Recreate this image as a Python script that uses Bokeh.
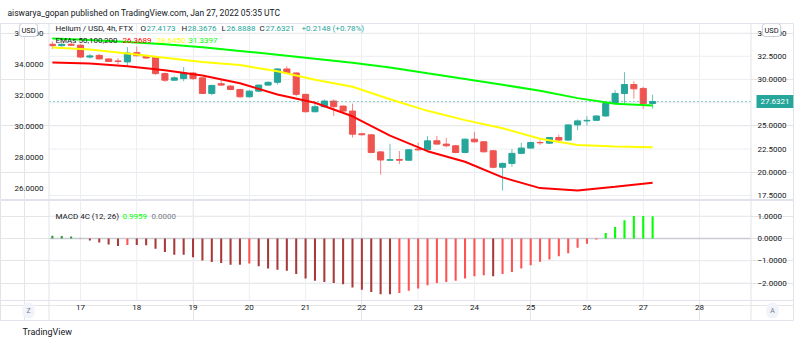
import datetime as dt
import pandas as pd
from bokeh.plotting import figure
from bokeh.layouts import column
from bokeh.models import (ColumnDataSource, LinearAxis, DatetimeAxis, Range1d, FixedTicker, DaysTicker,
                          DatetimeTickFormatter, CustomJSTickFormatter, Label, Span, Grid, Title)
from bokeh.embed import file_html
from bokeh.resources import INLINE

# ---------------- data ----------------
start_time = "2022-01-16 12:00"
opens = [33.80, 33.65, 33.80, 33.70, 32.42, 32.60, 32.22, 32.00, 31.90, 32.90,
         32.57, 32.40, 30.64, 29.93, 30.10, 30.70, 30.18, 28.50, 29.55, 29.29,
         28.93, 28.14, 28.75, 29.40, 29.70, 31.14, 30.71, 28.40, 26.53, 27.07,
         27.68, 27.14, 26.60, 24.15, 24.04, 22.20, 21.30, 21.38, 21.30, 22.50,
         22.43, 23.40, 23.04, 22.86, 22.14, 23.57, 23.29, 22.32, 20.54, 20.96,
         22.04, 22.61, 23.21, 23.14, 23.75, 23.47, 25.11, 25.54, 25.60, 26.07,
         27.43, 28.50, 29.46, 29.04, 27.4173]
highs = [34.10, 33.90, 33.95, 33.80, 32.75, 32.75, 32.30, 32.30, 33.50, 33.55,
         32.70, 32.45, 30.75, 30.35, 31.35, 30.80, 30.20, 29.45, 29.95, 29.40,
         29.00, 28.85, 29.45, 29.80, 31.20, 31.43, 30.75, 28.45, 27.60, 27.85,
         27.85, 27.20, 27.40, 24.25, 24.10, 22.30, 23.04, 22.30, 22.50, 23.20,
         23.90, 23.93, 23.70, 22.95, 23.65, 24.36, 23.35, 22.40, 21.05, 22.50,
         23.20, 23.30, 23.45, 23.80, 24.05, 25.15, 25.70, 26.05, 26.15, 27.50,
         28.86, 30.79, 29.82, 29.20, 28.3676]
lows = [33.30, 33.55, 33.60, 32.35, 32.25, 32.15, 31.90, 31.65, 31.35, 32.50,
        32.25, 30.50, 29.75, 29.85, 29.80, 29.95, 28.45, 28.30, 29.30, 28.85,
        28.05, 28.05, 28.65, 29.30, 29.46, 30.65, 28.20, 26.45, 26.45, 26.95,
        26.07, 26.50, 23.75, 23.95, 22.05, 19.75, 21.25, 20.90, 21.25, 22.30,
        22.35, 22.95, 22.70, 22.05, 22.05, 23.20, 22.15, 20.45, 18.04, 20.60,
        21.95, 22.55, 22.95, 23.05, 23.40, 23.40, 24.55, 25.05, 25.55, 26.00,
        27.35, 27.43, 27.93, 26.85, 26.8888]
closes = [33.65, 33.80, 33.70, 32.42, 32.55, 32.22, 31.95, 31.95, 32.86, 32.57,
          32.32, 30.64, 29.93, 30.18, 30.70, 30.10, 28.50, 29.36, 29.40, 28.93,
          28.14, 28.75, 29.40, 29.70, 31.14, 30.71, 28.40, 26.53, 27.07, 27.68,
          27.07, 26.60, 24.11, 24.05, 22.14, 21.33, 21.36, 21.30, 22.43, 22.42,
          23.39, 23.04, 22.86, 22.14, 23.57, 23.29, 22.21, 20.54, 20.96, 22.04,
          22.61, 23.21, 23.18, 23.75, 23.47, 25.11, 25.54, 25.60, 26.07, 27.43,
          28.50, 29.46, 29.00, 27.4173, 27.6321]

# EMA values sampled every 4 candles (16h)
ema50 = [34.12, 34.05, 33.88, 33.62, 33.28, 32.78, 32.05, 31.52, 30.65, 29.40,
         28.40, 27.72, 26.71, 26.02, 25.86, 26.10, 26.3689]
ema100 = [35.08, 34.96, 34.70, 34.42, 34.15, 33.95, 33.55, 33.00, 32.55, 31.75,
          31.00, 30.40, 29.88, 29.20, 28.80, 28.70, 28.6450]
ema200 = [35.66, 35.56, 35.44, 35.30, 35.10, 34.86, 34.62, 34.36, 34.10, 33.80,
          33.42, 33.05, 32.68, 32.30, 31.82, 31.45, 31.3397]

macd_hist = [0.12, 0.11, 0.09, -0.02, -0.09, -0.18, -0.27, -0.34, -0.30, -0.30,
             -0.31, -0.46, -0.61, -0.73, -0.73, -0.84, -0.99, -1.06, -1.10, -1.18,
             -1.18, -1.13, -1.25, -1.35, -1.40, -1.45, -1.60, -1.80, -1.90, -1.95,
             -2.00, -2.05, -2.20, -2.30, -2.40, -2.50, -2.50, -2.45, -2.35, -2.25,
             -2.10, -2.00, -1.95, -1.90, -1.80, -1.70, -1.65, -1.70, -1.60, -1.50,
             -1.35, -1.20, -1.05, -0.95, -0.80, -0.66, -0.42, -0.24, -0.05, 0.24,
             0.51, 0.81, 1.00, 1.00, 0.9959]

price_ticks = [17.5, 20.0, 22.5, 25.0, 27.5, 30.0, 32.5, 35.0]
ema_ticks = [26, 28, 30, 32, 34, 36]
macd_ticks = [-2, -1, 0, 1]
day_ticks = list(range(17, 29))

# ---------------- styles ----------------
FONT = "Roboto"
DARK = "#131722"
UP = "#26a69a"
DOWN = "#ef5350"
GRID = "#eceef2"
BORDER = "#e0e3eb"
FMT4 = "return tick.toFixed(4).replace('-', '\u2212')"

times = pd.date_range(start_time, periods=len(opens), freq="4h")
four_h = 4 * 3600 * 1000
ema_times = times[::4]
day_times = pd.to_datetime([f"2022-01-{d:02d}" for d in day_ticks])

colors = [UP if c >= o else DOWN for o, c in zip(opens, closes)]
src = ColumnDataSource(dict(t=times, o=opens, h=highs, l=lows, c=closes,
                            top=[max(o, c) for o, c in zip(opens, closes)],
                            bot=[min(o, c) for o, c in zip(opens, closes)],
                            color=colors))

mcol = []
for i, v in enumerate(macd_hist):
    prev = macd_hist[i - 1] if i > 0 else v + 1
    if v >= 0:
        mcol.append("#00ff00" if v >= prev - 0.005 else "#2e9b3a")
    else:
        mcol.append("#ff5252" if v > prev else "#a83a3a")
msrc = ColumnDataSource(dict(t=times, v=macd_hist, color=mcol))

# frame spans page x 0..793; the price panes sit between x=48 and x=750
FW = 793
x_start = dt.datetime(2022, 1, 15, 13, 53)
x_end = dt.datetime(2022, 1, 29, 16, 5)
xr = Range1d(start=x_start, end=x_end)
t0 = pd.Timestamp(x_start).value / 1e6
t1 = pd.Timestamp(x_end).value / 1e6


def x_at(px):
    return t0 + px / FW * (t1 - t0)


PANE_L, PANE_R = x_at(48.5), x_at(750.5)


def style_axis(ax, standoff):
    ax.major_tick_line_color = None
    ax.minor_tick_line_color = None
    ax.major_tick_out = 0
    ax.major_tick_in = 0
    ax.minor_tick_out = 0
    ax.minor_tick_in = 0
    ax.major_label_text_font = FONT
    ax.major_label_text_font_size = "8px"
    ax.major_label_text_color = DARK
    ax.major_label_standoff = standoff


def lab(fig, x, y, text, color=DARK, size="8px", **kw):
    fig.add_layout(Label(x=x, y=y, x_units="screen", y_units="screen", text=text,
                         text_font=FONT, text_font_size=size, text_color=color,
                         text_baseline="middle", **kw))


def hgrid(fig, ticks, **kw):
    fig.segment(x0=[PANE_L] * len(ticks), y0=ticks, x1=[PANE_R] * len(ticks), y1=ticks,
                line_color=GRID, line_width=1, **kw)


# ---------------- main pane ----------------
p = figure(width=800, height=200, x_range=xr, y_range=Range1d(16.96, 36.04),
           x_axis_type="datetime", x_axis_location=None, y_axis_location=None,
           toolbar_location=None, output_backend="svg", title=None,
           min_border_left=0, min_border_right=7, min_border_top=22, min_border_bottom=0)
p.extra_y_ranges = {"ema": Range1d(25.22, 36.63)}
p.outline_line_color = BORDER
p.border_fill_color = "white"

p.add_layout(Grid(dimension=0, ticker=DaysTicker(days=day_ticks), grid_line_color=GRID))
hgrid(p, price_ticks)

ra = LinearAxis(fixed_location=x_at(748), ticker=FixedTicker(ticks=price_ticks),
                formatter=CustomJSTickFormatter(code=FMT4), axis_line_color=None)
style_axis(ra, 9)
p.add_layout(ra, "right")

la = LinearAxis(y_range_name="ema", fixed_location=x_at(48), ticker=FixedTicker(ticks=ema_ticks),
                formatter=CustomJSTickFormatter(code=FMT4), axis_line_color=None)
style_axis(la, 5)
p.add_layout(la, "left")

for loc in (PANE_L, PANE_R):
    p.add_layout(Span(location=loc, dimension="height", line_color=BORDER, line_width=1))

p.segment(x0="t", y0="l", x1="t", y1="h", color="color", line_width=1, line_alpha=0.7, source=src)
p.vbar(x="t", width=0.65 * four_h, top="top", bottom="bot", fill_color="color",
       line_color="color", line_width=1, source=src)

p.line([PANE_L, x_at(751)], [closes[-1], closes[-1]], line_color=UP, line_dash="2 2",
       line_width=1, line_alpha=0.55)

p.line(ema_times, ema200, color="#00ff00", line_width=2, y_range_name="ema")
p.line(ema_times, ema100, color="#ffff00", line_width=2, y_range_name="ema")
p.line(ema_times, ema50, color="#ff0000", line_width=2, y_range_name="ema")

p.add_layout(Title(text="aiswarya_gopan published on TradingView.com, Jan 27, 2022 05:35 UTC",
                   align="left", offset=7, text_font=FONT, text_font_size="8.5px",
                   text_font_style="normal", text_color=DARK, standoff=11), "above")

top_y = lambda page_y: 200 - page_y  # main frame bottom is at page y 200

chg = closes[-1] - closes[-2]
pct = chg / closes[-2] * 100
hdr = [("Helium / USD, 4h, FTX", 55, DARK),
       ("O", 140, DARK), (f"{opens[-1]:.4f}", 146, UP),
       ("H", 181, DARK), (f"{highs[-1]:.4f}", 187, UP),
       ("L", 221, DARK), (f"{lows[-1]:.4f}", 226, UP),
       ("C", 259, DARK), (f"{closes[-1]:.4f}", 265, UP),
       (f"{chg:+.4f} ({pct:+.2f}%)", 301, UP)]
for t, x, c in hdr:
    lab(p, x, top_y(28), t, c)

hdr2 = [("EMAs 50,100,200", 55, DARK), (f"{ema50[-1]:.4f}", 122, "#ff0000"),
        (f"{ema100[-1]:.4f}", 156, "#ffff00"), (f"{ema200[-1]:.4f}", 188, "#00ff00")]
for t, x, c in hdr2:
    lab(p, x, top_y(40), t, c)

# last price tag on the right scale
p.add_layout(Label(x=756, y=closes[-1], x_units="screen", y_units="data", text=f"{closes[-1]:.4f}",
                   text_font=FONT, text_font_size="8px", text_color="white", text_baseline="middle",
                   background_fill_color=UP, padding=4))

# currency badges
for x in (28, 771):
    p.add_layout(Label(x=x, y=top_y(29.5), x_units="screen", y_units="screen", text="USD",
                       text_font=FONT, text_font_size="7.5px", text_color=DARK,
                       text_baseline="middle", text_align="center",
                       background_fill_color="white", border_line_color="#c8cbd4",
                       padding=2, border_radius=3))

# ---------------- MACD pane ----------------
q = figure(width=800, height=143, x_range=xr, y_range=Range1d(-3.68, 1.70),
           x_axis_type="datetime", x_axis_location=None, y_axis_location=None,
           toolbar_location=None, output_backend="svg", title=None,
           min_border_left=0, min_border_right=7, min_border_top=0, min_border_bottom=23)
q.outline_line_color = BORDER
q.border_fill_color = "white"

hgrid(q, [t for t in macd_ticks if t != 0])
q.segment(x0=day_times, y0=-2.78, x1=day_times, y1=1.70, line_color=GRID, line_width=1)
for loc in (PANE_L, PANE_R):
    q.add_layout(Span(location=loc, dimension="height", line_color=BORDER, line_width=1))

qa = LinearAxis(fixed_location=x_at(748), ticker=FixedTicker(ticks=macd_ticks),
                formatter=CustomJSTickFormatter(code=FMT4), axis_line_color=None)
style_axis(qa, 9)
q.add_layout(qa, "right")

xa = DatetimeAxis(fixed_location=-2.78, ticker=DaysTicker(days=day_ticks),
                  formatter=DatetimeTickFormatter(days="%d", months="%d", hours="%d"),
                  axis_line_color=BORDER)
style_axis(xa, 5)
q.add_layout(xa, "below")

q.segment(x0=[PANE_L], y0=[0], x1=[PANE_R], y1=[0], line_color="#c9ccd3", line_width=1.5)
q.vbar(x="t", width=0.22 * four_h, top="v", bottom=0, fill_color="color", line_color=None, source=msrc)

m_y = lambda page_y: 320 - page_y
lab(q, 55, m_y(216), "MACD 4C (12, 26)", DARK)
lab(q, 122, m_y(216), f"{macd_hist[-1]:.4f}", "#00ff00")
lab(q, 151, m_y(216), "0.0000", "#787b86")

for x, t in ((28, "Z"), (772, "A")):
    q.add_layout(Label(x=x, y=m_y(310), x_units="screen", y_units="screen", text=t,
                       text_font=FONT, text_font_size="7px", text_color="#787b86",
                       text_baseline="middle", text_align="center",
                       background_fill_color="#f0f3fa", padding=4, border_radius=7))

q.add_layout(Title(text="TradingView", align="left", offset=22, text_font=FONT,
                   text_font_size="9px", text_font_style="normal", text_color=DARK, standoff=9), "below")

layout = column(p, q, spacing=0)
open("out.html", "w").write(file_html(layout, INLINE))
